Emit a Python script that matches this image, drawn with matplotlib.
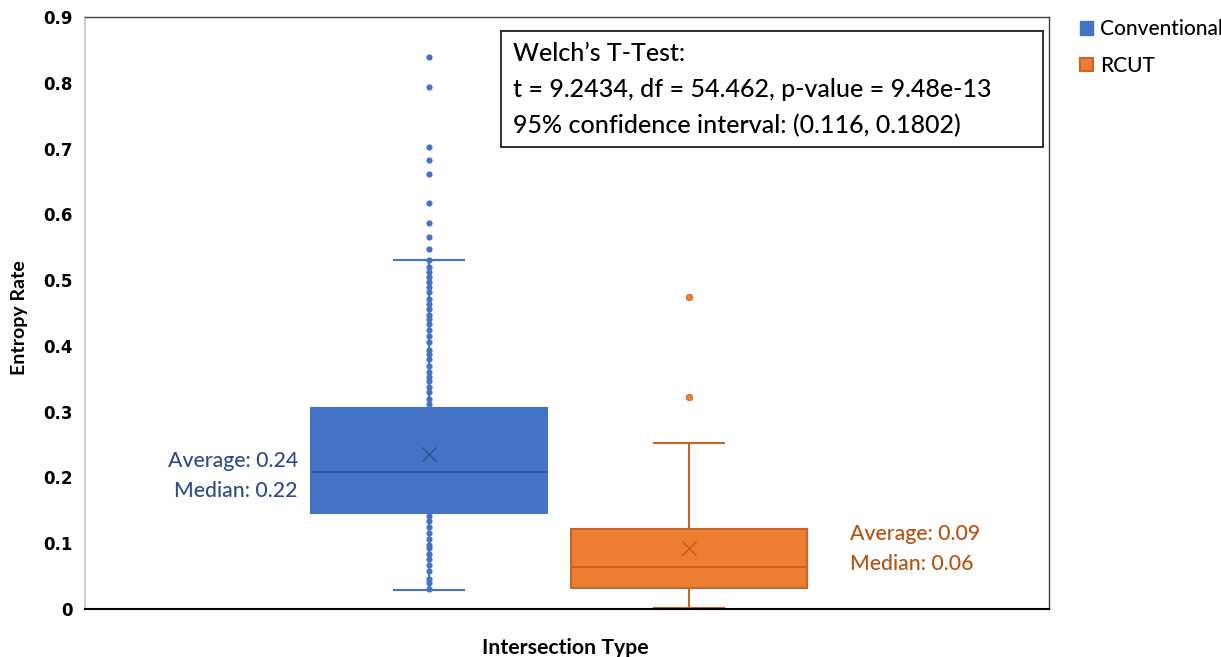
import numpy as np
import matplotlib.pyplot as plt
from matplotlib.patches import Patch, Rectangle

# data
series = ["Conventional", "RCUT"]
whisker_low = [0.029, 0.001]
q1 = [0.146, 0.032]
median = [0.209, 0.064]
q3 = [0.305, 0.121]
whisker_high = [0.531, 0.252]
mean = [0.236, 0.0925]

# points drawn outside the boxes
conv_points = [
    0.839, 0.794, 0.702, 0.682, 0.661, 0.617, 0.587, 0.565, 0.548, 0.531,
    0.520, 0.512, 0.504, 0.497, 0.489, 0.482, 0.472, 0.463, 0.456, 0.447,
    0.441, 0.434, 0.424, 0.415, 0.406, 0.393, 0.387, 0.380, 0.369, 0.361,
    0.352, 0.346, 0.337, 0.330, 0.320, 0.311,
    0.142, 0.134, 0.125, 0.116, 0.106, 0.098, 0.092, 0.083, 0.076, 0.067,
    0.058, 0.046, 0.039, 0.031,
]
rcut_points = [0.474, 0.323]

avg_labels = ["Average: 0.24", "Average: 0.09"]
med_labels = ["Median: 0.22", "Median: 0.06"]

stats_lines = [
    "Welch\u2019s T-Test:",
    "t = 9.2434, df = 54.462, p-value = 9.48e-13",
    "95% confidence interval: (0.116, 0.1802)",
]

fills = ["#4472C4", "#ED7D31"]
edges = ["#4472C4", "#C8652B"]
dark = ["#2F5597", "#C0601F"]
label_cols = ["#2E4B8C", "#B5520F"]

W, H = 1221, 657
fig = plt.figure(figsize=(W / 100, H / 100), dpi=100)
ax = fig.add_axes([85 / W, 1 - 609 / H, 964 / W, 592 / H])

positions = [1, 2]
for i in range(2):
    st = [{
        "whislo": whisker_low[i], "q1": q1[i], "med": median[i], "q3": q3[i],
        "whishi": whisker_high[i], "mean": mean[i], "fliers": [],
    }]
    ax.bxp(
        st, positions=[positions[i]], widths=0.908, patch_artist=True,
        showmeans=True, showfliers=False,
        boxprops=dict(facecolor=fills[i], edgecolor=edges[i], linewidth=1.5),
        medianprops=dict(color=dark[i], linewidth=1.2),
        whiskerprops=dict(color=edges[i], linewidth=1.5),
        capprops=dict(color=edges[i], linewidth=1.5),
        capwidths=0.27,
        meanprops=dict(marker="x", markeredgecolor=dark[i], markersize=10,
                       markeredgewidth=1.0),
        zorder=2,
    )

ax.scatter(np.full(len(conv_points), positions[0]), conv_points, s=20,
           color=fills[0], zorder=3, linewidths=0)
ax.scatter(np.full(len(rcut_points), positions[1]), rcut_points, s=22,
           color=fills[1], edgecolors=edges[1], linewidths=0.6, zorder=3)

ax.set_xlim(-0.323, 3.385)
ax.set_ylim(0, 0.9)
ax.set_yticks(np.arange(0, 0.91, 0.1))
ax.set_yticklabels(["0"] + [f"{v:.1f}" for v in np.arange(0.1, 0.91, 0.1)],
                   fontfamily="DejaVu Sans", fontweight="bold", fontsize=12)
ax.set_xticks([])
ax.tick_params(axis="y", length=0, pad=9)

for s in ["top", "right"]:
    ax.spines[s].set_color("#404040")
    ax.spines[s].set_linewidth(1.0)
ax.spines["left"].set_color("#D0D0D0")
ax.spines["left"].set_linewidth(1.5)
ax.spines["bottom"].set_color("black")
ax.spines["bottom"].set_linewidth(1.5)

# average / median annotations
ann = dict(fontfamily="Lato", fontsize=15.3, fontweight="medium")
ax.text(0.496, 0.2256, avg_labels[0], ha="right", va="center",
        color=label_cols[0], **ann)
ax.text(0.496, 0.180, med_labels[0], ha="right", va="center",
        color=label_cols[0], **ann)
ax.text(2.619, 0.114, avg_labels[1], ha="left", va="center",
        color=label_cols[1], **ann)
ax.text(2.619, 0.069, med_labels[1], ha="left", va="center",
        color=label_cols[1], **ann)

# Welch test box
ax.add_patch(Rectangle((0.4315, 0.7804), 0.5622, 0.196, transform=ax.transAxes,
                       facecolor="white", edgecolor="#202020", linewidth=1.3,
                       zorder=4))
for line, yy in zip(stats_lines, [0.939, 0.877, 0.816]):
    ax.text(0.444, yy, line, transform=ax.transAxes, ha="left", va="center",
            fontfamily="Lato", fontsize=18, fontweight="medium", color="black",
            zorder=5)

fig.text(20 / W, 1 - 318 / H, "Entropy Rate", rotation=90, ha="center",
         va="center", fontfamily="Lato", fontweight="bold", fontsize=14)
fig.text(565 / W, 1 - 648 / H, "Intersection Type", ha="center", va="center",
         fontfamily="Lato", fontweight="bold", fontsize=15.3)

handles = [Patch(facecolor=fills[0], edgecolor=fills[0]),
           Patch(facecolor=fills[1], edgecolor=edges[1], linewidth=1.5)]
fig.legend(handles, series, loc="upper left", bbox_to_anchor=(1072 / W, 1 - 11 / H),
           frameon=False, prop={"family": "Lato", "size": 15, "weight": "medium"},
           handlelength=0.63, handleheight=0.63, handletextpad=0.3,
           labelspacing=0.8, borderaxespad=0)

fig.savefig("out.png", dpi=100)
